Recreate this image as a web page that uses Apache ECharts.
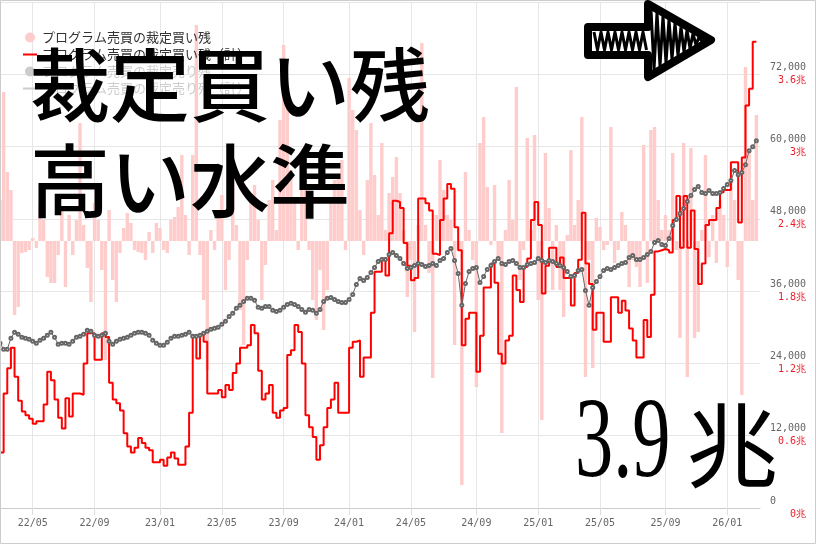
<!DOCTYPE html>
<html><head><meta charset="utf-8">
<script src="https://cdn.jsdelivr.net/npm/echarts@6.0.0/dist/echarts.min.js"></script>
<style>html,body{margin:0;padding:0;background:#fff}#c{width:816px;height:544px}</style>
</head><body><div id="c"></div>
<script>
// weekly categories (Fridays)
const startDate = [2022, 2, 4];
const weekCount = 210;
const tickMonths = [1, 5, 9];

const buyBalanceTotal = [0.46,0.95,1.16,1.33,1.09,0.89,0.80,0.77,0.74,0.70,
0.72,0.72,0.86,1.13,1.06,0.90,0.75,0.66,0.91,0.76,
0.95,0.95,0.94,1.20,1.45,1.45,1.23,1.23,1.45,1.42,
1.04,0.90,0.87,0.81,0.62,0.51,0.46,0.50,0.58,0.54,
0.50,0.48,0.38,0.38,0.40,0.35,0.42,0.46,0.41,0.36,
0.36,0.51,0.79,1.43,1.24,1.44,1.38,0.95,0.95,0.95,
0.98,0.92,1.02,0.98,1.12,1.20,1.33,1.33,1.35,1.52,
1.45,1.14,0.90,0.95,1.02,0.79,0.75,0.81,0.83,1.27,
1.31,1.52,1.46,1.20,0.77,0.67,0.59,0.40,0.52,0.67,
0.83,0.90,1.04,0.79,0.79,0.79,1.33,1.38,1.39,1.09,
1.25,1.25,1.62,1.96,1.96,2.07,1.93,2.28,2.55,2.54,
2.49,2.20,2.01,1.89,1.91,2.57,2.57,2.53,2.47,2.11,
2.10,2.39,2.57,2.69,2.65,2.33,2.14,1.35,1.57,1.62,
1.62,1.13,1.43,1.83,1.83,2.03,1.87,1.28,1.20,1.39,
1.43,1.93,1.81,1.71,2.00,2.07,2.39,2.54,2.35,1.78,
2.01,2.16,2.16,2.00,2.08,1.91,1.91,1.68,1.95,2.06,
2.45,2.03,1.86,1.48,1.62,1.62,1.38,1.38,1.75,1.75,
1.62,1.72,1.64,1.49,1.39,1.25,1.25,1.56,1.42,1.77,
2.13,2.14,2.15,2.14,2.12,2.39,2.59,2.16,2.59,2.16,
2.47,2.15,1.86,2.03,2.35,2.39,2.39,2.49,2.62,2.64,
2.64,2.87,2.87,2.37,2.91,3.34,3.48,3.87,3.87];

const nikkei = [27340,26350,26350,28170,29160,28830,28330,28170,28000,27670,
27340,27840,28170,28670,29160,28330,27170,27340,27340,27170,
27670,28330,28500,28830,29490,29330,28670,28500,28670,29000,
27670,27170,27670,28000,28170,28330,28670,29000,29160,29160,
29000,28670,27840,27340,27010,27010,27510,28170,28500,28500,
28670,28830,29160,28500,28500,28670,29000,29330,29660,29830,
29990,30490,30990,31810,32310,33140,33640,34300,34800,34800,
34470,33310,33140,33470,33470,32810,32640,32810,33310,33800,
33970,33800,33470,32970,32480,32970,32810,32310,32970,34300,
34800,34960,34630,34300,34130,34130,34630,35460,37120,38110,
37780,38280,39110,39930,40930,41260,41260,42090,42420,41920,
41430,40600,39770,39930,40270,40600,40430,40100,40270,40600,
40270,41090,41430,42420,43080,41090,38940,33640,37280,39270,
39770,39930,37450,38440,39600,40270,40930,41430,40600,40430,
40930,41090,40600,39930,39930,40430,40600,40760,41430,41090,
40760,41090,40930,40600,40270,39930,39270,38440,38610,39440,
39600,36120,33640,36620,37610,38440,39440,39770,39600,39930,
40270,40600,40760,41590,41920,41260,41260,41590,42090,42580,
44080,44410,43740,43580,44740,46890,47890,48880,49710,50870,
51860,52860,53360,52360,52200,52690,52200,52200,52360,53020,
53690,54350,56010,55340,55680,57000,59320,59980,60980];

const buyBalanceWeekly = [820,2980,1380,1020,-1480,-1320,-240,-220,-180,60,
-140,720,420,-720,-840,-840,-280,620,-920,520,
-280,420,2360,320,-540,-1220,760,420,-580,-2380,
620,-780,-1220,-240,260,560,360,-180,-220,-240,
-380,180,-240,360,260,-180,-240,420,480,680,
1720,520,-280,1720,4320,-280,-1180,-2580,220,-180,
620,920,-980,-380,1220,320,-1380,-2080,-380,820,
1120,420,-1180,-480,820,1220,220,2420,3920,2920,
1420,820,-180,1620,1820,-180,-1180,-1580,-580,-1780,
-980,820,1220,1320,1620,-180,3260,2620,2220,620,
-280,1220,2360,1320,520,1960,220,960,1280,1680,
960,220,-1120,-380,-1820,320,3960,320,-640,-2740,
520,1620,1020,520,420,-2080,-180,-4880,1380,220,
-380,-2920,1960,2480,1080,-80,1120,-380,-3840,220,
1220,420,3080,-780,-180,2060,220,2120,-1180,-3580,
1760,660,-980,320,-980,-1520,120,1820,320,820,
2480,-2720,-380,-2540,460,280,-180,-80,2280,-440,
-180,580,320,-920,-380,-520,-920,1920,-840,2220,
2280,820,220,520,220,1760,-180,-1940,1960,-2720,
1860,-1940,-1820,220,1720,-320,520,-440,820,520,
-520,1220,820,-780,-3080,3480,1820,820,2520];

const sellBalanceWeekly = [];
const sellBalanceTotal = [];

const nikkeiTicks = [0, 12000, 24000, 36000, 48000, 60000, 72000];
const trillionTicks = [0, 0.6, 1.2, 1.8, 2.4, 3, 3.6];

const NAME_BUY = 'プログラム売買の裁定買い残';
const NAME_BUY_T = 'プログラム売買の裁定買い残（計）';
const NAME_SELL = 'プログラム売買の裁定売り残';
const NAME_SELL_T = 'プログラム売買の裁定売り残（計）';

const pad = n => (n < 10 ? '0' : '') + n;
const categories = [];
for (let k = 0; k < weekCount; k++) {
  const d = new Date(Date.UTC(startDate[0], startDate[1], startDate[2] + 7 * k));
  categories.push(d.getUTCFullYear() + '/' + pad(d.getUTCMonth() + 1) + '/' + pad(d.getUTCDate()));
}
const monthOf = s => parseInt(s.slice(5, 7), 10);
const isTick = idx => idx > 0 && tickMonths.indexOf(monthOf(categories[idx])) >= 0 &&
  monthOf(categories[idx]) !== monthOf(categories[idx - 1]);

const mono = '"DejaVu Sans Mono", monospace';
const cjk = '"Noto Sans CJK JP", sans-serif';
const lineIcon = 'path://M0,0H14V2H0Z';

// arrow hatching decoration
const shaftZig = [];
for (let x = 594, k = 0; x <= 647; x += 3.5, k++) shaftZig.push([x, k % 2 ? 50 : 32]);
const headZig = [];
for (let x = 651, k = 0; x <= 704; x += 3, k++) {
  const top = 4 + (x - 648) * 0.571 + 4, bot = 77 - (x - 648) * 0.587 - 4;
  if (top >= bot) break;
  headZig.push([x, k % 2 ? bot : top]);
}

const chart = echarts.init(document.getElementById('c'), null, { renderer: 'canvas' });
chart.setOption({
  animation: false,
  backgroundColor: '#fff',
  grid: { left: 0, right: 56, top: 2, bottom: 36, containLabel: false },
  legend: {
    orient: 'vertical', left: 18, top: 26, itemWidth: 14, itemHeight: 10, itemGap: 4,
    symbolKeepAspect: true,
    textStyle: { fontFamily: cjk, fontSize: 13, color: '#333' },
    inactiveColor: '#ccc',
    data: [{ name: NAME_BUY, icon: 'circle' }, { name: NAME_BUY_T, icon: lineIcon },
           { name: NAME_SELL, icon: 'circle' }, { name: NAME_SELL_T, icon: lineIcon }],
    selected: { [NAME_SELL]: false, [NAME_SELL_T]: false }
  },
  xAxis: {
    type: 'category', data: categories, boundaryGap: false,
    axisLine: { lineStyle: { color: '#ccc' } },
    axisTick: { show: true, length: 7, interval: (i) => isTick(i), lineStyle: { color: '#ddd' } },
    splitLine: { show: true, interval: (i) => isTick(i), lineStyle: { color: '#e6e6e6' } },
    axisLabel: {
      interval: (i) => isTick(i), margin: 10, color: '#666', fontFamily: mono, fontSize: 10,
      formatter: v => v.slice(2, 4) + '/' + v.slice(5, 7)
    }
  },
  yAxis: [
    {
      type: 'value', position: 'right', min: 0, max: 84000, interval: 12000,
      axisLine: { show: false }, axisTick: { show: false },
      splitLine: { lineStyle: { color: '#e6e6e6' } },
      axisLabel: {
        showMaxLabel: false, align: 'left', margin: 10, verticalAlign: 'bottom', padding: [0, 0, 2, 0],
        color: '#666', fontFamily: mono, fontSize: 10,
        formatter: v => (nikkeiTicks.indexOf(v) >= 0 ? v.toLocaleString('en-US') : '')
      }
    },
    {
      type: 'value', position: 'right', min: 0, max: 4.2, interval: 0.6,
      axisLine: { show: false }, axisTick: { show: false }, splitLine: { show: false },
      axisLabel: {
        showMaxLabel: false, align: 'right', margin: 46, verticalAlign: 'top', padding: [1, 0, 0, 0],
        color: '#e8202a', fontFamily: mono, fontSize: 10,
        formatter: v => { const r = parseFloat(v.toFixed(1)); return trillionTicks.indexOf(r) >= 0 ? r + '兆' : ''; }
      }
    },
    { type: 'value', min: -5340, max: 4780, show: false, splitLine: { show: false } }
  ],
  series: [
    { name: NAME_BUY, type: 'bar', yAxisIndex: 2, data: buyBalanceWeekly, barWidth: 3.4,
      itemStyle: { color: '#ffcccc' }, z: 1 },
    { name: NAME_BUY_T, type: 'line', yAxisIndex: 1, data: buyBalanceTotal, step: 'end', symbol: 'none',
      lineStyle: { color: '#ff0000', width: 2 }, itemStyle: { color: '#ff0000' }, z: 3 },
    { name: NAME_SELL, type: 'bar', yAxisIndex: 2, data: sellBalanceWeekly, itemStyle: { color: '#bbb' } },
    { name: NAME_SELL_T, type: 'line', yAxisIndex: 1, data: sellBalanceTotal, symbol: 'none',
      lineStyle: { color: '#999', width: 1 }, itemStyle: { color: '#999' } },
    { name: '日経平均', type: 'line', yAxisIndex: 0, data: nikkei, symbol: 'emptyCircle', symbolSize: 3,
      showSymbol: true, showAllSymbol: true, lineStyle: { color: '#666', width: 1 },
      itemStyle: { color: '#666', borderWidth: 0.8 }, z: 4 }
  ],
  graphic: [
    { type: 'rect', silent: true, z: 100, shape: { x: 0.5, y: 0.5, width: 815, height: 543 },
      style: { fill: 'none', stroke: '#ccc', lineWidth: 1 } },
    { type: 'text', z: 100, x: 30, y: 85, style: { text: '裁定買い残', fontFamily: cjk, fontWeight: 500, fontSize: 80, fill: '#000', verticalAlign: 'middle' } },
    { type: 'text', z: 100, x: 30, y: 181, style: { text: '高い水準', fontFamily: cjk, fontWeight: 500, fontSize: 80, fill: '#000', verticalAlign: 'middle' } },
    { type: 'text', z: 100, x: 575, y: 446, scaleX: 0.67, style: { text: '3.9', fontFamily: '"Liberation Serif", serif', fontSize: 114, fill: '#000', verticalAlign: 'middle' } },
    { type: 'text', z: 100, x: 686, y: 445, style: { text: '兆', fontFamily: cjk, fontSize: 92, fill: '#000', verticalAlign: 'middle' } },
    { type: 'polygon', z: 100, shape: { points: [[588, 27], [648, 27], [648, 4], [711, 40], [648, 77], [648, 55], [588, 55]] },
      style: { fill: '#fff', stroke: '#000', lineWidth: 8, lineJoin: 'round' } },
    { type: 'polyline', z: 101, shape: { points: shaftZig }, style: { stroke: '#000', lineWidth: 3, fill: 'none', lineJoin: 'round' } },
    { type: 'polyline', z: 101, shape: { points: headZig }, style: { stroke: '#000', lineWidth: 3, fill: 'none', lineJoin: 'round' } }
  ]
});
</script></body></html>
